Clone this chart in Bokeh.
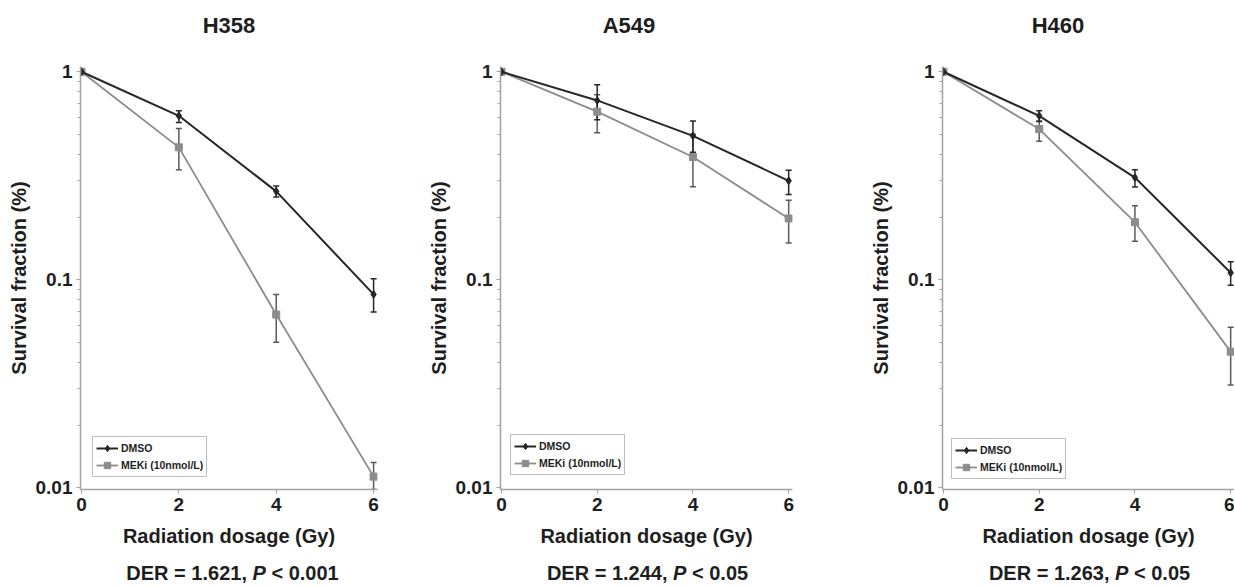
import math
from bokeh.plotting import figure
from bokeh.models import (Range1d, FixedTicker, Legend, LegendItem, Whisker,
                          TeeHead, ColumnDataSource, CustomJSTickFormatter, Div)
from bokeh.layouts import row, column
from bokeh.embed import file_html
from bokeh.resources import INLINE

# ---------------- data ----------------
doses = [0, 2, 4, 6]
cell_lines = ["H358", "A549", "H460"]
series_names = ["DMSO", "MEKi (10nmol/L)"]

h358_dmso = [1.0, 0.614, 0.266, 0.085]
h358_dmso_lo = [1.0, 0.570, 0.250, 0.070]
h358_dmso_hi = [1.0, 0.650, 0.282, 0.101]
h358_meki = [1.0, 0.433, 0.068, 0.0113]
h358_meki_lo = [1.0, 0.338, 0.050, 0.0098]
h358_meki_hi = [1.0, 0.534, 0.085, 0.0132]

a549_dmso = [1.0, 0.728, 0.492, 0.299]
a549_dmso_lo = [1.0, 0.588, 0.410, 0.257]
a549_dmso_hi = [1.0, 0.866, 0.580, 0.336]
a549_meki = [1.0, 0.643, 0.389, 0.197]
a549_meki_lo = [1.0, 0.509, 0.280, 0.150]
a549_meki_hi = [1.0, 0.775, 0.500, 0.241]

h460_dmso = [1.0, 0.614, 0.310, 0.108]
h460_dmso_lo = [1.0, 0.577, 0.279, 0.094]
h460_dmso_hi = [1.0, 0.650, 0.338, 0.122]
h460_meki = [1.0, 0.530, 0.189, 0.0451]
h460_meki_lo = [1.0, 0.463, 0.153, 0.0312]
h460_meki_hi = [1.0, 0.580, 0.227, 0.059]

der_values = ["1.621", "1.244", "1.263"]
p_values = ["0.001", "0.05", "0.05"]

y_tick_values = [0.01, 0.1, 1]
x_tick_values = [0, 2, 4, 6]

# ---------------- style ----------------
FONT = "Liberation Sans"
TXT = "#1e1e1e"
AXIS_COL = "#a3a3a3"
DMSO_COL = "#262626"
MEKI_COL = "#8c8c8c"
MEKI_ERR = "#5a5a5a"

Y0, Y1 = 0.0098, 1.06
TOP = 25
FRAME_H = 423
BOTTOM = 73
H = TOP + FRAME_H + BOTTOM
FRAME_W = 297
TITLE_W = 100

panels = [
    dict(name=cell_lines[0], dmso=h358_dmso, dlo=h358_dmso_lo, dhi=h358_dmso_hi,
         meki=h358_meki, mlo=h358_meki_lo, mhi=h358_meki_hi,
         width=424, left=80, xr=(-0.02, 6.08), leg=(12, 12), tcx=229),
    dict(name=cell_lines[1], dmso=a549_dmso, dlo=a549_dmso_lo, dhi=a549_dmso_hi,
         meki=a549_meki, mlo=a549_meki_lo, mhi=a549_meki_hi,
         width=442, left=71, xr=(-0.02, 6.08), leg=(10, 14), tcx=205),
    dict(name=cell_lines[2], dmso=h460_dmso, dlo=h460_dmso_lo, dhi=h460_dmso_hi,
         meki=h460_meki, mlo=h460_meki_lo, mhi=h460_meki_hi,
         width=368, left=71, xr=(-0.02, 6.08), leg=(9, 10), tcx=192),
]

minor = [m * 10 ** e for e in (-2, -1) for m in range(2, 10)]

figs, divs, tdivs = [], [], []
for i, pn in enumerate(panels):
    right = pn["width"] - pn["left"] - FRAME_W
    p = figure(width=pn["width"], height=H, y_axis_type="log", title=None,
               x_range=Range1d(*pn["xr"]), y_range=Range1d(Y0, Y1),
               output_backend="svg", toolbar_location=None,
               min_border_left=pn["left"], min_border_right=max(right, 0),
               min_border_top=TOP, min_border_bottom=BOTTOM)
    p.outline_line_color = None
    p.grid.visible = False
    p.background_fill_color = "white"

    # axes
    p.yaxis.ticker = FixedTicker(ticks=y_tick_values, minor_ticks=minor)
    p.yaxis.formatter = CustomJSTickFormatter(code="return tick.toString();")
    p.xaxis.ticker = FixedTicker(ticks=x_tick_values, minor_ticks=[])
    for ax in (p.xaxis[0], p.yaxis[0]):
        ax.axis_line_color = AXIS_COL
        ax.axis_line_width = 1.5
        ax.major_tick_line_color = AXIS_COL
        ax.major_tick_line_width = 1.2
        ax.major_tick_in = 0
        ax.major_tick_out = 4
        ax.minor_tick_line_color = AXIS_COL
        ax.minor_tick_in = 0
        ax.minor_tick_out = 3
        ax.major_label_text_font = FONT
        ax.major_label_text_font_style = "bold"
        ax.major_label_text_font_size = "19px"
        ax.major_label_text_color = TXT
        ax.axis_label_text_font = FONT
        ax.axis_label_text_font_style = "bold"
        ax.axis_label_text_font_size = "20px"
        ax.axis_label_text_color = TXT
    p.yaxis.axis_label = "Survival fraction (%)"
    p.yaxis.major_label_standoff = 4
    p.yaxis.axis_label_standoff = 3
    p.xaxis.axis_label = "Radiation dosage (Gy)"
    p.xaxis.major_label_standoff = 4
    p.xaxis.axis_label_standoff = 11

    # series
    lm = p.line(doses, pn["meki"], line_color=MEKI_COL, line_width=1.8)
    sm = p.scatter(doses, pn["meki"], marker="square", size=7,
                   fill_color=MEKI_COL, line_color=MEKI_COL)
    ld = p.line(doses, pn["dmso"], line_color=DMSO_COL, line_width=2)
    sd = p.scatter(doses, pn["dmso"], marker="diamond", size=8,
                   fill_color=DMSO_COL, line_color=DMSO_COL)

    for vals, lo, hi, col in ((pn["meki"], pn["mlo"], pn["mhi"], MEKI_ERR),
                              (pn["dmso"], pn["dlo"], pn["dhi"], DMSO_COL)):
        src = ColumnDataSource(dict(x=doses[1:], lo=lo[1:], hi=hi[1:]))
        w = Whisker(source=src, base="x", lower="lo", upper="hi",
                    line_color=col, line_width=1.5,
                    upper_head=TeeHead(size=6, line_color=col, line_width=1.5),
                    lower_head=TeeHead(size=6, line_color=col, line_width=1.5))
        p.add_layout(w)

    legend = Legend(items=[LegendItem(label=series_names[0], renderers=[ld, sd]),
                           LegendItem(label=series_names[1], renderers=[lm, sm])],
                    location=pn["leg"])
    legend.border_line_color = "#808080"
    legend.border_line_width = 1
    legend.background_fill_color = "white"
    legend.background_fill_alpha = 1
    legend.padding = 3
    legend.spacing = 1
    legend.margin = 0
    legend.glyph_width = 22
    legend.glyph_height = 16
    legend.label_height = 16
    legend.label_standoff = 3
    legend.label_text_font = FONT
    legend.label_text_font_style = "bold"
    legend.label_text_font_size = "10.5px"
    legend.label_text_color = TXT
    legend.label_text_baseline = "middle"
    p.add_layout(legend)
    figs.append(p)

    # panel title (HTML, above the figure)
    ml = pn["tcx"] - TITLE_W // 2
    t = Div(text="<span>%s</span>" % pn["name"], width=TITLE_W, height=30,
            margin=(11, pn["width"] - TITLE_W - ml, 0, ml),
            styles={"font-family": FONT, "font-size": "22px", "font-weight": "bold",
                    "color": TXT, "text-align": "center", "line-height": "30px",
                    "white-space": "nowrap"})
    tdivs.append(t)

    # DER annotation below (HTML so P can be italic)
    html = "<span>DER = %s, <i>P</i> &lt; %s</span>" % (der_values[i], p_values[i])
    d = Div(text=html, width=FRAME_W, height=23,
            margin=(0, max(right, 0) - 4, 0, pn["left"] + 4),
            styles={"font-family": FONT, "font-size": "20px", "font-weight": "bold",
                    "color": TXT, "text-align": "center", "line-height": "23px",
                    "white-space": "nowrap"})
    divs.append(d)

layout = column(row(*tdivs), row(*figs), row(*divs))
open("out.html", "w").write(file_html(layout, INLINE))
